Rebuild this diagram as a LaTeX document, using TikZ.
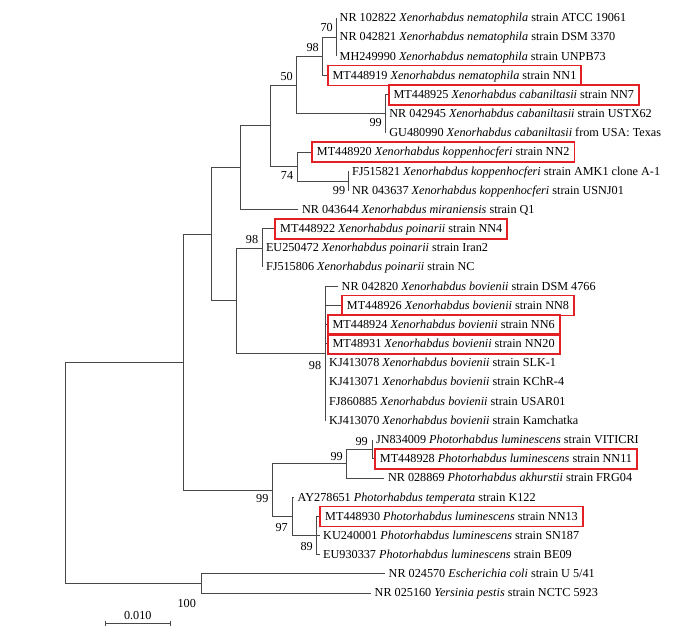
\documentclass[tikz,border=0pt]{standalone}
\usepackage{fontspec}
\setmainfont{Liberation Serif}
\usetikzlibrary{positioning,backgrounds}
\definecolor{boxred}{RGB}{226,32,38}
\definecolor{branchgray}{RGB}{72,72,72}
\tikzset{
  branch/.style={draw=branchgray, line width=0.9pt},
  leaf/.style={anchor=west, inner xsep=3.5pt, inner ysep=1pt, text height=10pt, text depth=2.5pt, font=\fontsize{12.2}{14}\selectfont},
  newleaf/.style={leaf, draw=boxred, line width=1.8pt, inner xsep=5pt, minimum height=20pt},
  boot/.style={inner sep=0pt, font=\fontsize{12.2}{14}\selectfont},
}
\begin{document}
\begin{tikzpicture}[x=1pt, y=-1pt]
    \useasboundingbox (0,0) rectangle (700,631);

    % inner nodes of the tree
    \coordinate (root)   at (65.7,472.8);
    \coordinate (ing)    at (183.3,362.2);
    \coordinate (xeno)   at (211.7,234.3);
    \coordinate (upx)    at (240,167.8);
    \coordinate (n50)    at (270.7,125.8);
    \coordinate (nc)     at (296.7,85.1);
    \coordinate (nem)    at (322.7,56.3);
    \coordinate (n70)    at (336,37.2);
    \coordinate (cab)    at (385.7,113.9);
    \coordinate (kop)    at (297.7,166.6);
    \coordinate (kopsub) at (348.3,181);
    \coordinate (pobo)   at (236.7,300.8);
    \coordinate (poi)    at (262.3,248);
    \coordinate (bov)    at (325.5,353.5);
    \coordinate (photo)  at (272.3,490.1);
    \coordinate (lum)    at (346.7,463.7);
    \coordinate (lsub)   at (372.3,449.3);
    \coordinate (tem)    at (292.7,516.4);
    \coordinate (tsub)   at (316.7,535.6);
    \coordinate (outg)   at (201,583.5);

    % Leaves
    \foreach \i/\x/\st/\txt in {
        1/336/leaf/{NR 102822 \textit{Xenorhabdus nematophila} strain ATCC 19061},
        2/336/leaf/{NR 042821 \textit{Xenorhabdus nematophila} strain DSM 3370},
        3/336/leaf/{MH249990 \textit{Xenorhabdus nematophila} strain UNPB73},
        4/326.7/newleaf/{MT448919 \textit{Xenorhabdus nematophila} strain NN1},
        5/387.7/newleaf/{MT448925 \textit{Xenorhabdus cabaniltasii} strain NN7},
        6/385.7/leaf/{NR 042945 \textit{Xenorhabdus cabaniltasii} strain USTX62},
        7/385.7/leaf/{GU480990 \textit{Xenorhabdus cabaniltasii} from USA: Texas},
        8/311/newleaf/{MT448920 \textit{Xenorhabdus koppenhocferi} strain NN2},
        9/348.3/leaf/{FJ515821 \textit{Xenorhabdus koppenhocferi} strain AMK1 clone A-1},
        10/348.3/leaf/{NR 043637 \textit{Xenorhabdus koppenhocferi} strain USNJ01},
        11/298.3/leaf/{NR 043644 \textit{Xenorhabdus miraniensis} strain Q1},
        12/274.3/newleaf/{MT448922 \textit{Xenorhabdus poinarii} strain NN4},
        13/262.3/leaf/{EU250472 \textit{Xenorhabdus poinarii} strain Iran2},
        14/262.3/leaf/{FJ515806 \textit{Xenorhabdus poinarii} strain NC},
        15/338/leaf/{NR 042820 \textit{Xenorhabdus bovienii} strain DSM 4766},
        16/341/newleaf/{MT448926 \textit{Xenorhabdus bovienii} strain NN8},
        17/326.7/newleaf/{MT448924 \textit{Xenorhabdus bovienii} strain NN6},
        18/326.7/newleaf/{MT48931 \textit{Xenorhabdus bovienii} strain NN20},
        19/325.5/leaf/{KJ413078 \textit{Xenorhabdus bovienii} strain SLK-1},
        20/325.5/leaf/{KJ413071 \textit{Xenorhabdus bovienii} strain KChR-4},
        21/325.5/leaf/{FJ860885 \textit{Xenorhabdus bovienii} strain USAR01},
        22/325.5/leaf/{KJ413070 \textit{Xenorhabdus bovienii} strain Kamchatka},
        23/372.3/leaf/{JN834009 \textit{Photorhabdus luminescens} strain VITICRI},
        24/374/newleaf/{MT448928 \textit{Photorhabdus luminescens} strain NN11},
        25/384.3/leaf/{NR 028869 \textit{Photorhabdus akhurstii} strain FRG04},
        26/294/leaf/{AY278651 \textit{Photorhabdus temperata} strain K122},
        27/319.3/newleaf/{MT448930 \textit{Photorhabdus luminescens} strain NN13},
        28/319.5/leaf/{KU240001 \textit{Photorhabdus luminescens} strain SN187},
        29/319.5/leaf/{EU930337 \textit{Photorhabdus luminescens} strain BE09},
        30/385/leaf/{NR 024570 \textit{Escherichia coli} strain U 5/41},
        31/371/leaf/{NR 025160 \textit{Yersinia pestis} strain NCTC 5923}
        } {
        \node[\st] (l\i) at (\x,{18+19.17*(\i-1)}) {\txt};
    }

    % Branches (under the red boxes)
    \begin{pgfonlayer}{background}
    \fill[white] (0,0) rectangle (700,631);
    \foreach \p/\c in {root/ing, root/outg, ing/xeno, ing/photo, xeno/upx, xeno/pobo,
        upx/n50, n50/nc, n50/kop, nc/nem, nc/cab, nem/n70, kop/kopsub, pobo/poi,
        pobo/bov, photo/lum, photo/tem, lum/lsub, tem/tsub} {
        \draw[branch] (\p) |- (\c);
    }
    \foreach \p/\c in {n70/1, n70/2, n70/3, nem/4, cab/5, cab/6, cab/7, kop/8,
        kopsub/9, kopsub/10, upx/11, poi/12, poi/13, poi/14, bov/15, bov/16,
        bov/17, bov/18, bov/19, bov/20, bov/21, bov/22, lsub/23, lsub/24, lum/25,
        tem/26, tsub/27, tsub/28, tsub/29, outg/30, outg/31} {
        \draw[branch] (\p) |- (l\c);
    }
    \end{pgfonlayer}

    % Bootstrap values
    \foreach \n/\x/\y/\v in {n70/326.7/28/70, nem/312.7/48/98, nc/286.7/77/50,
        cab/375.7/123/99, kop/287/175.7/74, kopsub/339/191/99, poi/252/240/98,
        bov/315/365/98, photo/262.3/499/99, lum/336.7/456.7/99, lsub/361.7/441.7/99,
        tem/281.7/527.3/97, tsub/306.7/546.7/89, outg/186.7/603.3/100} {
        \node[boot] (b\n) at (\x,\y) {\v};
    }

    % Scale bar
    \coordinate (sbl) at (105.3,623.3);
    \coordinate (sbr) at (170.3,623.3);
    \draw[branch] (sbl) -- (sbr);
    \draw[branch] ([yshift=2.5pt]sbl) -- ([yshift=-2.5pt]sbl);
    \draw[branch] ([yshift=2.5pt]sbr) -- ([yshift=-2.5pt]sbr);
    \node[boot] (sblabel) at (137.8,615.5) {0.010};
\end{tikzpicture}
\end{document}
